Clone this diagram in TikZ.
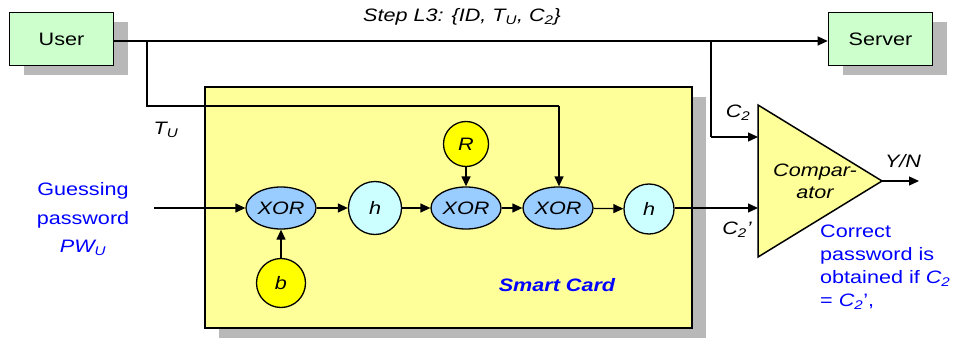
\documentclass[tikz,border=0pt]{standalone}
\usepackage{fontspec}
\setmainfont[FakeStretch=1.2]{Liberation Sans}
\usetikzlibrary{arrows.meta,shapes.geometric,shadows}
\definecolor{boxgreen}{HTML}{CCFFCC}
\definecolor{cardyellow}{HTML}{FFFF99}
\definecolor{xorblue}{HTML}{99CCFF}
\definecolor{hcyan}{HTML}{CCFFFF}
\definecolor{keyyellow}{HTML}{FFFF00}
\definecolor{shadowgray}{HTML}{B8B8B8}
\definecolor{txtblue}{HTML}{0000FF}
\newcommand{\subtxt}[1]{\textsubscript{#1}}
\begin{document}
\begin{tikzpicture}[x=1pt,y=-1pt,
  every node/.style={font=\fontsize{18}{20}\selectfont},
  shadowed/.style={drop shadow={shadow xshift=14pt,shadow yshift=-10pt,fill=shadowgray,opacity=1}},
  party/.style={draw,line width=1.6pt,fill=boxgreen,minimum width=104pt,minimum height=53pt,inner sep=0pt,shadowed},
  card/.style={draw,line width=1.6pt,fill=cardyellow,minimum width=487pt,minimum height=241pt,inner sep=0pt,shadowed},
  xorop/.style={ellipse,draw,line width=1.3pt,fill=xorblue,minimum width=70pt,minimum height=42pt,inner sep=0pt,font=\fontsize{18}{20}\selectfont\itshape},
  hashop/.style={circle,draw,line width=1.3pt,fill=hcyan,minimum size=53pt,inner sep=0pt,font=\fontsize{18}{20}\selectfont\itshape},
  keyop/.style={circle,draw,line width=1.3pt,fill=keyyellow,minimum size=47pt,inner sep=0pt,font=\fontsize{18}{20}\selectfont\itshape},
  conn/.style={line width=1.3pt,-{Triangle[length=10pt,width=9pt]}},
  plain/.style={line width=1.3pt},
  lbl/.style={font=\fontsize{18}{20}\selectfont\itshape,inner sep=0pt},
  bluetxt/.style={text=txtblue,inner sep=0pt}
]
\useasboundingbox (0,0) rectangle (957,339);

% smart card and parties
\node[card] (card) at (448.5,207.5) {};
\node[party] (user) at (61.5,39) {User};
\node[party] (server) at (880.5,39) {Server};

% comparator triangle
\coordinate (cmpA) at (758,105);
\coordinate (cmpB) at (758,257);
\coordinate (cmpC) at (882,181);
\filldraw[line width=1.5pt,fill=cardyellow,line join=miter] (cmpA) -- (cmpC) -- (cmpB) -- cycle;
\node[inner sep=0pt,align=center,font=\fontsize{18}{22}\selectfont\itshape] (cmptxt) at (815,181) {Compar-\\ator};
\coordinate (cmpin1) at (758,137);
\coordinate (cmpin2) at (758,208);
\coordinate (yn) at (919,181);

% operations
\node[xorop] (xor1) at (281,208) {XOR};
\node[hashop] (h1) at (375,208) {h};
\node[xorop] (xor2) at (466,208) {XOR};
\node[xorop] (xor3) at (558,208) {XOR};
\node[hashop,minimum size=50pt] (h2) at (649,209) {h};
\node[keyop,minimum size=45pt] (R) at (466,144) {R};
\node[keyop,minimum size=49pt] (b) at (281,283) {b};

% junction coordinates
\coordinate (j1) at (147,41);
\coordinate (j2) at (147,106);
\coordinate (j3) at (559,106);
\coordinate (j4) at (711,41);
\coordinate (j5) at (711,137);
\coordinate (pwin) at (154,208);

% connectors
\draw[conn] (user.east |- j1) -- (server.west |- j1);
\draw[plain] (j1) -- (j2) -- (j3);
\draw[conn] (j3) -- (xor3.north -| j3);
\draw[plain] (j4) -- (j5);
\draw[conn] (j5) -- (cmpin1);
\draw[conn] (pwin) -- (xor1);
\draw[conn] (xor1) -- (h1);
\draw[conn] (h1) -- (xor2);
\draw[conn] (xor2) -- (xor3);
\draw[conn] (xor3) -- (h2);
\draw[conn] (h2.east |- cmpin2) -- (cmpin2);
\draw[conn] (R) -- (xor2);
\draw[conn] (b) -- (xor1);
\draw[conn] (cmpC) -- (yn);

% labels
\node[lbl] (step) at (462,17) {Step L3: \{ID, T\subtxt{U}, C\subtxt{2}\}};
\node[lbl] (tu) at (166,130) {T\subtxt{U}};
\node[lbl] (c2) at (738,113) {C\subtxt{2}};
\node[lbl] (c2p) at (737,230) {C\subtxt{2}'};
\node[lbl] (ynl) at (903,161) {Y/N};
\node[bluetxt,align=center,font=\fontsize{18}{28.5}\selectfont] (guess) at (83,219) {Guessing\\password\\\textit{PW\subtxt{U}}};
\node[bluetxt,font=\fontsize{18}{20}\selectfont\bfseries\itshape] (sc) at (557,285) {Smart Card};
\node[bluetxt,align=left,anchor=north west,font=\fontsize{18}{23}\selectfont] (corr) at (820,225) {Correct\\password is\\obtained if \textit{C\subtxt{2}}\\= \textit{C\subtxt{2}}',};
\end{tikzpicture}
\end{document}
